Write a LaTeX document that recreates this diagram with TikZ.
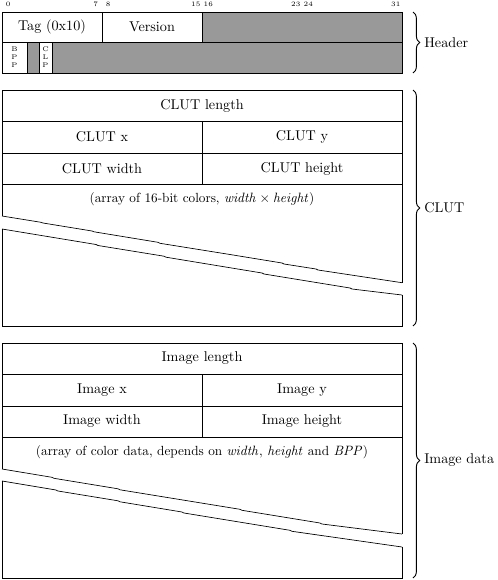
\documentclass[tikz,border=0pt]{standalone}
\usetikzlibrary{decorations.pathreplacing}
\begin{document}
\begin{tikzpicture}[x=0.74pt,y=-0.74pt,line width=0.5pt,
  font=\fontsize{10.5}{12.6}\selectfont,
  grey/.style={fill=black!40,draw=black},
  bit/.style={font=\tiny,inner sep=0pt},
  lbl/.style={inner sep=0pt},
  arr/.style={font=\fontsize{9.8}{12}\selectfont,inner sep=0pt},
  brc/.style={decorate,decoration={brace,amplitude=5pt},line width=0.7pt},
  side/.style={anchor=west,inner sep=0pt}]
\useasboundingbox (0,0) rectangle (497,580);
% bit numbers
\node[bit] (b0) at (8.25,4) {0};
\node[bit] (b7) at (95.75,4) {7};
\node[bit] (b8) at (108.25,4) {8};
\node[bit] (b15) at (195.75,4) {15};
\node[bit] (b16) at (208.25,4) {16};
\node[bit] (b23) at (295.75,4) {23};
\node[bit] (b24) at (308.25,4) {24};
\node[bit] (b31) at (395.75,4) {31};
% header
\draw[grey] (202,12) rectangle (402,42);
\draw (2,12) rectangle (102,42);
\draw (102,12) rectangle (202,42);
\draw (2,42) rectangle (27,73);
\draw[grey] (27,42) rectangle (39,73);
\draw (39,42) rectangle (52,73);
\draw[grey] (52,42) rectangle (402,73);
\node[lbl] (tag) at (52,27) {Tag (0x10)};
\node[lbl] (ver) at (152,27) {Version};
\node[bit,align=center] (bpp) at (14.5,57.5) {B\\P\\P};
\node[bit,align=center] (clp) at (45.5,57.5) {C\\L\\P};
\draw[brc] (413,12) -- (413,73);
\node[side] (hl) at (424,42.5) {Header};
% CLUT
\draw (2,90) rectangle (402,184);
\draw (2,121) -- (402,121);
\draw (2,153) -- (402,153);
\draw (202,121) -- (202,184);
\draw (2,184) -- (2,216);
\draw (402,184) -- (402,282.7);
\draw (2,229) -- (2,326) -- (402,326) -- (402,295);
\draw (2,216) -- (41,222.3) -- (43,223) -- (92,231) -- (94,231.8) -- (158,242.3) -- (160,243.3) -- (230,254.5) -- (282,263) -- (284,264) -- (316,269) -- (318,270) -- (402,282.7);
\draw (2,229) -- (96,244.5) -- (98,245.5) -- (164,256.2) -- (166,257.2) -- (262,273) -- (264,274) -- (350,288) -- (352,289) -- (402,295);
\node[lbl] (cl) at (202,105.5) {CLUT length};
\node[lbl] (cx) at (102,137) {CLUT x};
\node[lbl] (cy) at (302,137) {CLUT y};
\node[lbl] (cw) at (102,168.5) {CLUT width};
\node[lbl] (ch) at (302,168.5) {CLUT height};
\node[arr] (ca) at (202,199) {(array of 16-bit colors, $\mathit{width}\times\mathit{height}$)};
\draw[brc] (413,90) -- (413,326);
\node[side] (clbl) at (424,208) {CLUT};
% Image
\draw (2,343) rectangle (402,437);
\draw (2,374) -- (402,374);
\draw (2,406) -- (402,406);
\draw (202,374) -- (202,437);
\draw (2,437) -- (2,469);
\draw (402,437) -- (402,534);
\draw (2,481) -- (2,578) -- (402,578) -- (402,547);
\draw (2,469) -- (52,477.3) -- (54,478.3) -- (118,488.8) -- (120,489.8) -- (240,509.3) -- (242,510.3) -- (320,523) -- (322,524) -- (402,534);
\draw (2,481) -- (56,490) -- (58,491) -- (118,500.8) -- (120,501.8) -- (182,512) -- (184,513) -- (290,530.3) -- (292,531.3) -- (402,547);
\node[lbl] (il) at (202,358.5) {Image length};
\node[lbl] (ix) at (102,390) {Image x};
\node[lbl] (iy) at (302,390) {Image y};
\node[lbl] (iw) at (102,421.5) {Image width};
\node[lbl] (ih) at (302,421.5) {Image height};
\node[arr] (ia) at (202,452) {(array of color data, depends on $\mathit{width}$, $\mathit{height}$ and $\mathit{BPP}$)};
\draw[brc] (413,343) -- (413,578);
\node[side] (ilbl) at (424,460.5) {Image data};
\end{tikzpicture}
\end{document}
